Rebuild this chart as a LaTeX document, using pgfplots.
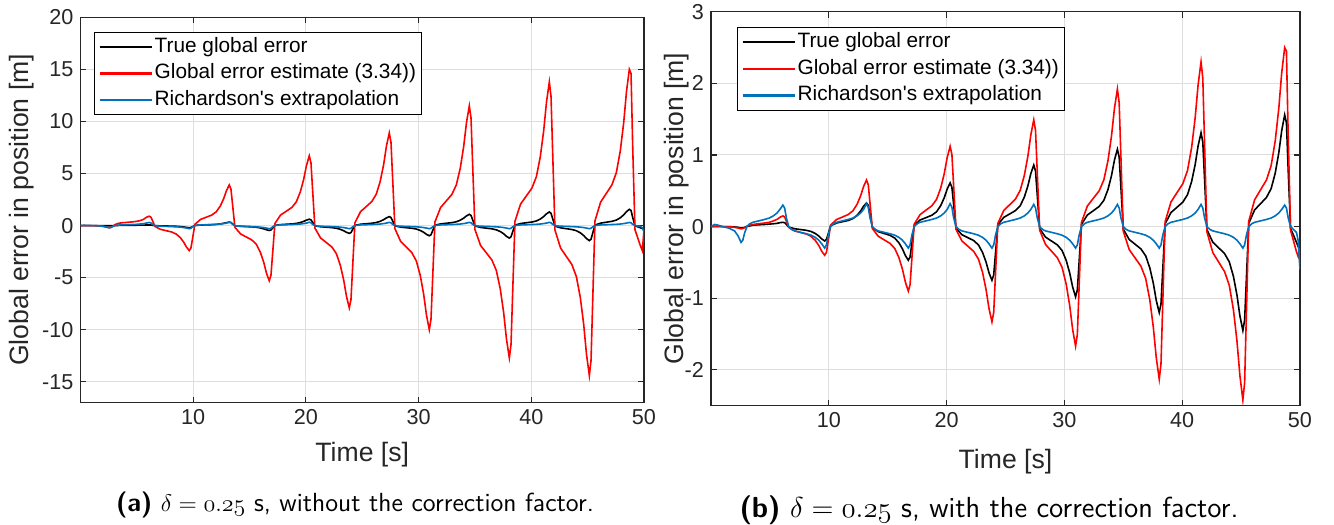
\documentclass[border=0pt]{standalone}
\usepackage{fontspec}
\newfontfamily\arial{Liberation Sans}
\usepackage{pgfplots}
\usepackage{pgfplotstable}
\pgfplotsset{compat=1.18}
\definecolor{mred}{rgb}{1,0,0}
\definecolor{mblue}{rgb}{0,0.447,0.741}
\newcommand\osf{\fontencoding{OML}\fontfamily{cmm}\fontseries{m}\fontshape{it}\selectfont}

\pgfplotstableread{
t rl rr bk bl
0.00 0 0 0 0
0.30 0 0.005 0 0.03
0.60 0 0.01 0 0.02
1.00 0 0 0 0
1.50 -0.02 0 0 -0.02
2.00 -0.08 -0.01 -0.005 -0.06
2.30 -0.15 -0.02 -0.01 -0.13
2.55 -0.2 -0.03 -0.02 -0.22
2.70 -0.17 -0.027 -0.018 -0.19
2.85 -0.08 -0.015 -0.01 -0.09
3.05 0.08 0.005 0.002 0.0
3.30 0.2 0.02 0.01 0.04
3.55 0.25 0.03 0.02 0.06
4.05 0.3 0.04 0.025 0.08
4.55 0.35 0.05 0.03 0.10
4.95 0.4 0.06 0.035 0.12
5.30 0.48 0.08 0.04 0.15
5.60 0.6 0.10 0.045 0.19
5.85 0.8 0.13 0.055 0.24
6.10 0.9 0.15 0.06 0.30
6.25 0.81 0.135 0.054 0.26
6.40 0.45 0.075 0.03 0.12
6.60 -0.07 -0.012 -0.006 0.0
6.85 -0.22 -0.036 -0.018 -0.04
7.10 -0.36 -0.06 -0.03 -0.06
7.60 -0.49 -0.082 -0.041 -0.08
8.10 -0.62 -0.104 -0.052 -0.10
8.50 -0.82 -0.136 -0.068 -0.12
8.85 -1.15 -0.192 -0.096 -0.15
9.15 -1.58 -0.264 -0.132 -0.19
9.40 -2.06 -0.344 -0.172 -0.24
9.65 -2.4 -0.4 -0.2 -0.30
9.80 -2.16 -0.36 -0.18 -0.255
9.95 -1.2 -0.2 -0.1 -0.12
10.15 0.12 0.02 0.01 0.0
10.40 0.35 0.059 0.03 0.04
10.65 0.59 0.098 0.05 0.06
11.15 0.80 0.133 0.068 0.08
11.65 1.01 0.169 0.086 0.10
12.05 1.33 0.221 0.112 0.12
12.40 1.87 0.312 0.158 0.15
12.70 2.57 0.429 0.218 0.19
12.95 3.35 0.559 0.284 0.24
13.20 3.9 0.65 0.33 0.32
13.35 3.51 0.585 0.297 0.27
13.50 1.95 0.325 0.165 0.12
13.70 -0.16 -0.027 -0.014 0.0
13.95 -0.48 -0.081 -0.042 -0.04
14.20 -0.80 -0.135 -0.071 -0.06
14.70 -1.09 -0.185 -0.096 -0.08
15.20 -1.38 -0.234 -0.122 -0.10
15.60 -1.80 -0.306 -0.16 -0.12
15.95 -2.54 -0.432 -0.226 -0.15
16.25 -3.50 -0.594 -0.31 -0.19
16.50 -4.56 -0.774 -0.404 -0.24
16.75 -5.3 -0.9 -0.47 -0.30
16.90 -4.77 -0.81 -0.423 -0.255
17.05 -2.65 -0.45 -0.235 -0.12
17.25 0.20 0.034 0.018 0.0
17.50 0.60 0.101 0.055 0.04
17.75 1.01 0.168 0.092 0.06
18.25 1.37 0.23 0.125 0.08
18.75 1.74 0.291 0.159 0.10
19.15 2.28 0.381 0.207 0.12
19.50 3.22 0.538 0.293 0.15
19.80 4.42 0.739 0.403 0.19
20.05 5.76 0.963 0.525 0.24
20.30 6.7 1.12 0.61 0.32
20.45 6.03 1.008 0.549 0.27
20.60 3.35 0.56 0.305 0.12
20.80 -0.24 -0.04 -0.023 0.0
21.05 -0.71 -0.12 -0.068 -0.04
21.30 -1.19 -0.2 -0.113 -0.06
21.80 -1.62 -0.273 -0.154 -0.08
22.30 -2.05 -0.346 -0.195 -0.10
22.70 -2.69 -0.452 -0.255 -0.12
23.05 -3.79 -0.638 -0.36 -0.15
23.35 -5.21 -0.878 -0.495 -0.19
23.60 -6.79 -1.144 -0.645 -0.24
23.85 -7.9 -1.33 -0.75 -0.30
24.00 -7.11 -1.197 -0.675 -0.255
24.15 -3.95 -0.665 -0.375 -0.12
24.35 0.27 0.045 0.026 0.0
24.60 0.80 0.134 0.077 0.04
24.85 1.34 0.224 0.129 0.06
25.35 1.82 0.305 0.176 0.08
25.85 2.31 0.387 0.224 0.10
26.25 3.03 0.507 0.292 0.12
26.60 4.27 0.715 0.413 0.15
26.90 5.87 0.983 0.568 0.19
27.15 7.65 1.281 0.74 0.24
27.40 8.9 1.49 0.86 0.31
27.55 8.01 1.341 0.774 0.26
27.70 4.45 0.745 0.43 0.12
27.90 -0.30 -0.05 -0.029 0.0
28.15 -0.90 -0.15 -0.088 -0.04
28.40 -1.50 -0.25 -0.147 -0.06
28.90 -2.05 -0.342 -0.201 -0.08
29.40 -2.60 -0.434 -0.255 -0.10
29.80 -3.40 -0.568 -0.333 -0.12
30.15 -4.80 -0.802 -0.47 -0.15
30.45 -6.60 -1.102 -0.647 -0.19
30.70 -8.60 -1.436 -0.843 -0.24
30.95 -10.0 -1.67 -0.98 -0.30
31.10 -9.0 -1.503 -0.882 -0.255
31.25 -5.0 -0.835 -0.49 -0.12
31.45 0.35 0.058 0.032 0.0
31.70 1.04 0.173 0.097 0.04
31.95 1.73 0.288 0.162 0.06
32.45 2.36 0.394 0.221 0.08
32.95 2.99 0.499 0.281 0.10
33.35 3.91 0.653 0.367 0.12
33.70 5.52 0.922 0.518 0.15
34.00 7.59 1.267 0.713 0.19
34.25 9.89 1.651 0.929 0.24
34.50 11.5 1.92 1.08 0.31
34.65 10.35 1.728 0.972 0.26
34.80 5.75 0.96 0.54 0.12
35.00 -0.38 -0.064 -0.036 0.0
35.25 -1.14 -0.192 -0.108 -0.04
35.50 -1.91 -0.32 -0.18 -0.06
36.00 -2.60 -0.437 -0.246 -0.08
36.50 -3.30 -0.554 -0.312 -0.10
36.90 -4.32 -0.724 -0.408 -0.12
37.25 -6.10 -1.022 -0.576 -0.15
37.55 -8.38 -1.406 -0.792 -0.19
37.80 -10.92 -1.832 -1.032 -0.24
38.05 -12.7 -2.13 -1.2 -0.30
38.20 -11.43 -1.917 -1.08 -0.255
38.35 -6.35 -1.065 -0.6 -0.12
38.55 0.41 0.069 0.039 0.0
38.80 1.24 0.207 0.118 0.04
39.05 2.07 0.345 0.197 0.06
39.55 2.83 0.472 0.269 0.08
40.05 3.59 0.598 0.341 0.10
40.45 4.69 0.782 0.445 0.12
40.80 6.62 1.104 0.629 0.15
41.10 9.11 1.518 0.865 0.19
41.35 11.87 1.978 1.127 0.24
41.60 13.8 2.3 1.31 0.31
41.75 12.42 2.07 1.179 0.26
41.90 6.90 1.15 0.655 0.12
42.10 -0.43 -0.073 -0.044 0.0
42.35 -1.30 -0.218 -0.131 -0.04
42.60 -2.16 -0.363 -0.218 -0.06
43.10 -2.95 -0.496 -0.297 -0.08
43.60 -3.74 -0.629 -0.377 -0.10
44.00 -4.90 -0.823 -0.493 -0.12
44.35 -6.91 -1.162 -0.696 -0.15
44.65 -9.50 -1.597 -0.957 -0.19
44.90 -12.38 -2.081 -1.247 -0.24
45.15 -14.4 -2.42 -1.45 -0.30
45.30 -12.96 -2.178 -1.305 -0.255
45.45 -7.20 -1.21 -0.725 -0.12
45.65 0.45 0.075 0.047 0.0
45.90 1.35 0.225 0.14 0.04
46.15 2.25 0.375 0.234 0.06
46.65 3.08 0.513 0.32 0.08
47.15 3.90 0.65 0.406 0.10
47.55 5.10 0.85 0.53 0.12
47.90 7.20 1.2 0.749 0.15
48.20 9.90 1.65 1.03 0.19
48.45 12.90 2.15 1.342 0.24
48.70 15.0 2.5 1.56 0.30
48.85 14.6 2.45 1.45 0.26
49.00 7.5 1.25 0.78 0.12
49.20 -0.4 -0.05 -0.03 0.0
49.45 -1.2 -0.2 -0.12 -0.04
49.70 -2.0 -0.35 -0.22 -0.08
49.85 -2.4 -0.42 -0.28 -0.2
50.00 -0.5 -0.3 -0.35 -0.6
}\data

\pgfplotsset{
  mstyle/.style={
    scale only axis,
    xmin=0, xmax=50,
    xtick={10,20,30,40,50},
    xticklabels={10,20,30,40,50},
    tick align=inside,
    tick pos=both,
    major tick length=3pt,
    grid=major,
    major grid style={draw=black!13, line width=0.5pt},
    axis line style={draw=black!85, line width=0.6pt},
    every tick/.style={black!85, line width=0.6pt},
    tick label style={font=\arial\fontsize{10.8}{12}\selectfont, text=black!85},
    label style={font=\arial\fontsize{13.3}{15}\selectfont, text=black!85},
    xlabel={Time [s]},
    ylabel={Global error in position [m]},
    legend cell align=left,
    legend style={draw=black, line width=0.5pt, inner xsep=2pt, inner ysep=1pt,
      font=\arial\fontsize{10.4}{12}\selectfont, row sep=0.5pt,
      nodes={inner sep=1pt, text height=8pt, text depth=2.8pt}},
    legend image code/.code={\draw[#1, line width=1.1pt] (0pt,0pt) -- (26pt,0pt);},
  },
  dline/.style={line width=0.8pt},
}

\begin{document}
\begin{tikzpicture}
\useasboundingbox (0pt,0pt) rectangle (667pt,-262.5pt);
\begin{axis}[mstyle, at={(40.25pt,-8.65pt)}, anchor=north west,
  width=281.75pt, height=192.65pt,
  ymin=-17, ymax=20, ytick={-15,-10,-5,0,5,10,15,20},
  yticklabels={-15,-10,-5,0,5,10,15,20},
  xlabel style={at={(axis description cs:0.5,0)}, anchor=center, yshift=-26pt},
  ylabel style={at={(axis description cs:-0.104,0.5)}, anchor=center},
  legend style={at={(0.024,0.963)}, anchor=north west}]
\addplot[dline, black] table[x=t, y=bk] {\data};
\addplot[dline, mred] table[x=t, y=rl] {\data};
\addplot[dline, mblue] table[x=t, y=bl] {\data};
\legend{True global error, Global error estimate (3.34)), Richardson's extrapolation}
\end{axis}
\begin{axis}[mstyle, at={(355.5pt,-5.85pt)}, anchor=north west,
  width=294.5pt, height=197pt,
  ymin=-2.5, ymax=3, ytick={-2,-1,0,1,2,3},
  yticklabels={-2,-1,0,1,2,3},
  xlabel style={at={(axis description cs:0.5,0)}, anchor=center, yshift=-28pt},
  ylabel style={at={(axis description cs:-0.059,0.5)}, anchor=center},
  legend style={at={(0.044,0.961)}, anchor=north west}]
\addplot[dline, black] table[x=t, y=bk] {\data};
\addplot[dline, mred] table[x=t, y=rr] {\data};
\addplot[dline, mblue] table[x=t, y=bl] {\data};
\legend{True global error, Global error estimate (3.34)), Richardson's extrapolation}
\end{axis}
\node[font=\sffamily\fontsize{13.1}{16}\selectfont, anchor=center] at (177.5pt,-252.5pt)
  {\textbf{(a)} $\delta = \mbox{\osf 0\char58 25}$ s, without the correction factor.};
\node[font=\sffamily\fontsize{14.5}{17}\selectfont, anchor=center] at (494.5pt,-255pt)
  {\textbf{(b)} $\delta = \mbox{\osf 0\char58 25}$ s, with the correction factor.};
\end{tikzpicture}
\end{document}
